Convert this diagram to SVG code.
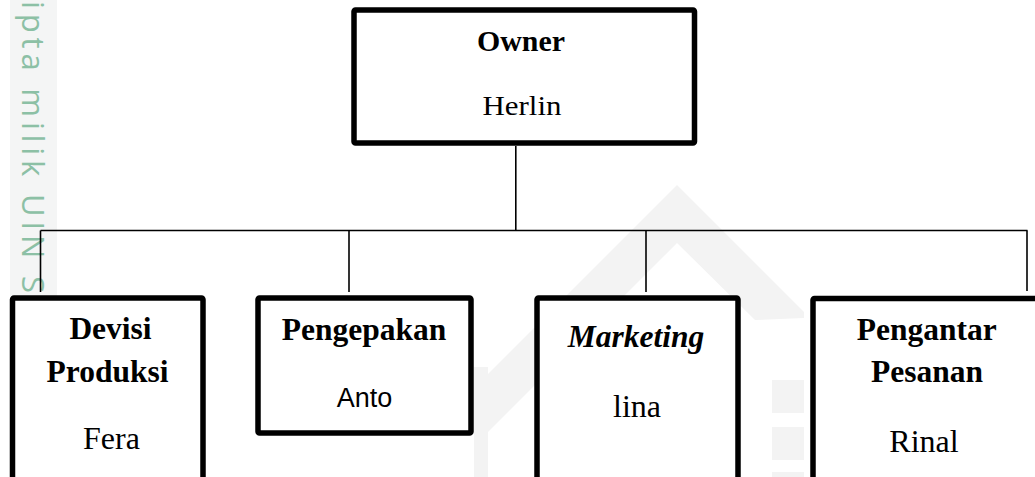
<svg xmlns="http://www.w3.org/2000/svg" width="1035" height="477" viewBox="0 0 1035 477">
  <style>
    .box { fill: #ffffff; stroke: #000000; stroke-width: 5.5; }
    .conn { fill: none; stroke: #000000; stroke-width: 1.6; }
    .hd { font-family: "Liberation Serif", "Times New Roman", serif; font-weight: bold; font-size: 31.5px; fill: #000; text-anchor: middle; }
    .nm { font-family: "Liberation Serif", "Times New Roman", serif; font-size: 32px; fill: #000; text-anchor: middle; }
    .sans { font-family: "Liberation Sans", Arial, sans-serif; font-size: 27px; fill: #000; text-anchor: middle; }
    .wm { fill: #f3f3f3; }
  </style>
  <rect x="0" y="0" width="1035" height="477" fill="#ffffff"/>

  <!-- watermark -->
  <g id="watermark">
    <rect x="10" y="0" width="47" height="296" fill="#f4f5f5"/>
    <text transform="translate(22,0) rotate(90)" x="1" y="0" font-family="'Open Sans', 'Liberation Sans', sans-serif" font-size="31" fill="#8cc0a5" textLength="292" lengthAdjust="spacing">ipta milik UIN S</text>
    <polygon class="wm" points="677,185 804,312 804,318 755,320 677,243 480,440 480,382"/>
    <rect class="wm" x="772" y="380" width="32" height="33"/>
    <rect class="wm" x="772" y="427" width="32" height="33"/>
    <rect class="wm" x="772" y="472" width="32" height="5"/>
    <rect class="wm" x="474" y="367" width="14" height="110"/>
  </g>

  <!-- connectors -->
  <g id="connectors">
    <path class="conn" d="M515.8 146 V230.5"/>
    <path class="conn" d="M40.5 230.5 H1027.5"/>
    <path class="conn" d="M40.5 230.5 V292"/>
    <path class="conn" d="M349 230.5 V292"/>
    <path class="conn" d="M646 230.5 V292"/>
    <path class="conn" d="M1027 230.5 V291"/>
  </g>

  <g id="owner">
    <rect class="box" x="354" y="10" width="340.5" height="133" rx="1.5" stroke-width="5"/>
    <text x="521" y="51" font-family="'Liberation Serif', 'Times New Roman', serif" font-weight="bold" font-size="29" text-anchor="middle" textLength="88" lengthAdjust="spacingAndGlyphs">Owner</text>
    <text x="522" y="115" font-family="'Liberation Serif', 'Times New Roman', serif" font-size="28" text-anchor="middle" textLength="79" lengthAdjust="spacingAndGlyphs">Herlin</text>
  </g>

  <g id="devisi-produksi">
    <rect class="box" x="12.5" y="298" width="190.5" height="200" rx="1.5"/>
    <text class="hd" x="110.5" y="339">Devisi</text>
    <text class="hd" x="107.5" y="382">Produksi</text>
    <text class="nm" x="111.5" y="449">Fera</text>
  </g>

  <g id="pengepakan">
    <rect class="box" x="258" y="298" width="213" height="135" rx="1.5"/>
    <text class="hd" x="364" y="339.5">Pengepakan</text>
    <text class="sans" x="364.4" y="407">Anto</text>
  </g>

  <g id="marketing">
    <rect class="box" x="537" y="298" width="201" height="200" rx="1.5"/>
    <text class="hd" x="636" y="346.5" font-style="italic">Marketing</text>
    <text class="nm" x="637" y="416.5">lina</text>
  </g>

  <g id="pengantar-pesanan">
    <rect class="box" x="813" y="298.5" width="230" height="200" rx="1.5"/>
    <text class="hd" x="926.7" y="340">Pengantar</text>
    <text class="hd" x="927" y="381.7">Pesanan</text>
    <text class="nm" x="924" y="451.5" font-size="33">Rinal</text>
  </g>
</svg>
